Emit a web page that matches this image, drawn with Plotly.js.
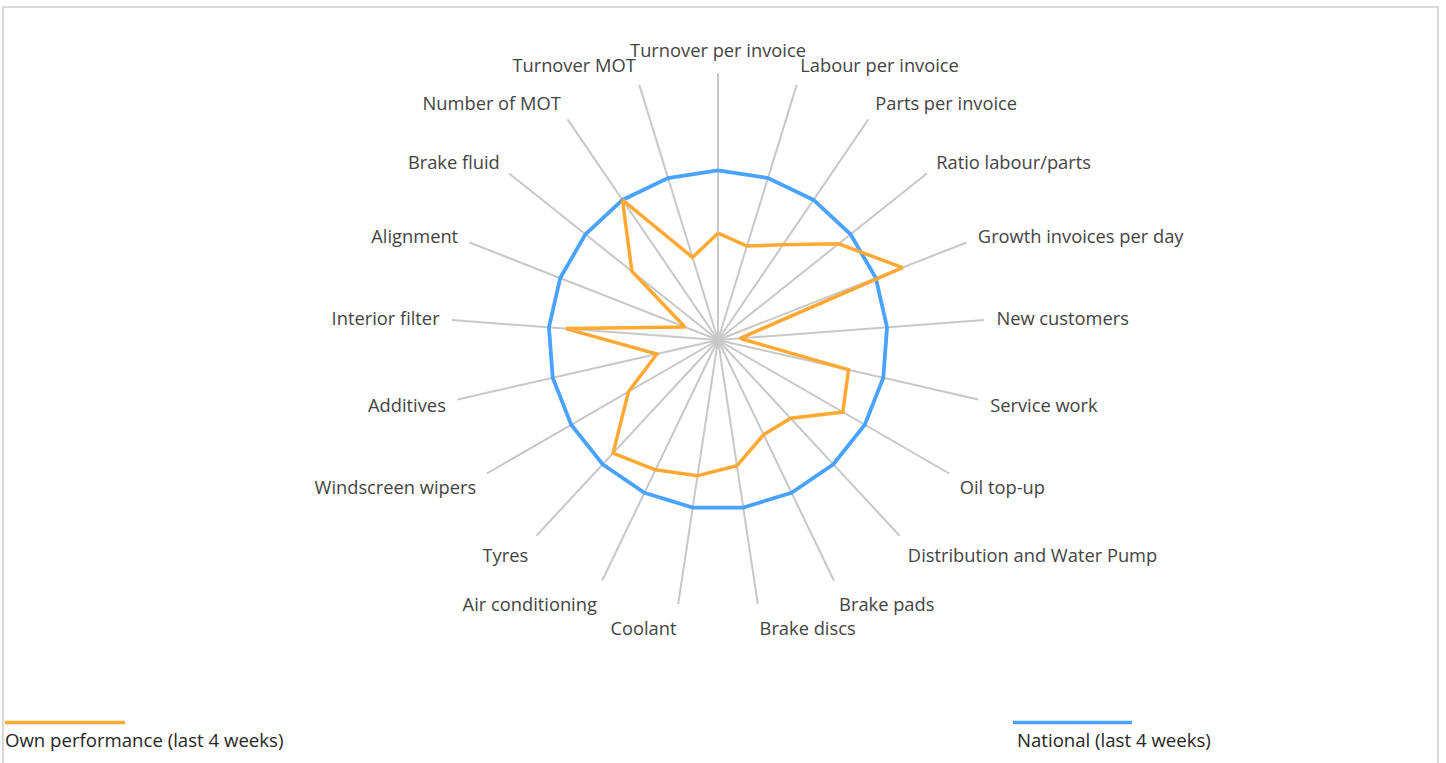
<!DOCTYPE html>
<html>
<head>
<meta charset="utf-8">
<script src="https://cdn.plot.ly/plotly-3.0.1.min.js"></script>
<style>
  html, body { margin: 0; padding: 0; background: #ffffff; }
  #chart { width: 1446px; height: 763px; }
</style>
</head>
<body>
<div id="chart"></div>
<script>
// ---- Data ----
const categories = [
  "Turnover per invoice", "Labour per invoice", "Parts per invoice", "Ratio labour/parts",
  "Growth invoices per day", "New customers", "Service work", "Oil top-up",
  "Distribution and Water Pump", "Brake pads", "Brake discs", "Coolant",
  "Air conditioning", "Tyres", "Windscreen wipers", "Additives",
  "Interior filter", "Alignment", "Brake fluid", "Number of MOT", "Turnover MOT"
];
const ownPerformance = [63, 58, 68, 91, 117, 13, 79, 85, 63, 62, 75, 81, 85, 91, 61, 37, 90, 21, 65, 100, 51];
const national = [100, 100, 100, 100, 100, 100, 100, 100, 100, 100, 100, 100, 100, 100, 100, 100, 100, 100, 100, 100, 100];
const seriesNames = ["Own performance (last 4 weeks)", "National (last 4 weeks)"];

// ---- Build ----
const W = 1446, H = 763;
const cx = 718, cy = 340, R = 267;
const close = a => a.concat([a[0]]);
const orange = "#FFA935", blue = "#4AA3FF";
const labelFont = { family: "Open Sans, sans-serif", size: 18.3, color: "#444444" };
const legendFont = { family: "Open Sans, sans-serif", size: 18.6, color: "#262626" };

const traces = [
  {
    type: "scatterpolar", mode: "lines", name: seriesNames[1],
    theta: close(categories), r: close(national),
    line: { color: blue, width: 3.8 }, hoverinfo: "theta+r"
  },
  {
    type: "scatterpolar", mode: "lines", name: seriesNames[0],
    theta: close(categories), r: close(ownPerformance),
    line: { color: orange, width: 3.5 }, hoverinfo: "theta+r"
  }
];

const px = x => x / W;
const py = y => 1 - y / H;

const layout = {
  width: W, height: H,
  margin: { l: 0, r: 0, t: 0, b: 0 },
  paper_bgcolor: "#ffffff",
  showlegend: false,
  font: labelFont,
  polar: {
    domain: { x: [px(cx - R), px(cx + R)], y: [py(cy + R), py(cy - R)] },
    bgcolor: "rgba(0,0,0,0)",
    radialaxis: {
      range: [0, 157.5], showgrid: false, showline: false,
      showticklabels: false, ticks: ""
    },
    angularaxis: {
      type: "category", direction: "clockwise", rotation: 90,
      showgrid: true, gridcolor: "#c8c8c8", gridwidth: 2,
      showline: false, ticks: "outside", ticklen: 8, tickcolor: "rgba(0,0,0,0)",
      tickfont: labelFont
    }
  },
  shapes: [
    { type: "rect", xref: "paper", yref: "paper",
      x0: px(3), x1: px(1438), y0: py(800), y1: py(7),
      line: { color: "#d9d9d9", width: 2 }, fillcolor: "rgba(0,0,0,0)" },
    { type: "line", xref: "paper", yref: "paper",
      x0: px(5), x1: px(125), y0: py(722.5), y1: py(722.5),
      line: { color: orange, width: 3.5 } },
    { type: "line", xref: "paper", yref: "paper",
      x0: px(1013), x1: px(1132), y0: py(722.5), y1: py(722.5),
      line: { color: blue, width: 3.5 } }
  ],
  annotations: [
    { xref: "paper", yref: "paper", x: px(3), y: py(739), xanchor: "left", yanchor: "middle",
      showarrow: false, text: seriesNames[0], font: legendFont },
    { xref: "paper", yref: "paper", x: px(1015), y: py(739), xanchor: "left", yanchor: "middle",
      showarrow: false, text: seriesNames[1], font: legendFont }
  ]
};

Plotly.newPlot("chart", traces, layout, { displayModeBar: false, staticPlot: true });
</script>
</body>
</html>
